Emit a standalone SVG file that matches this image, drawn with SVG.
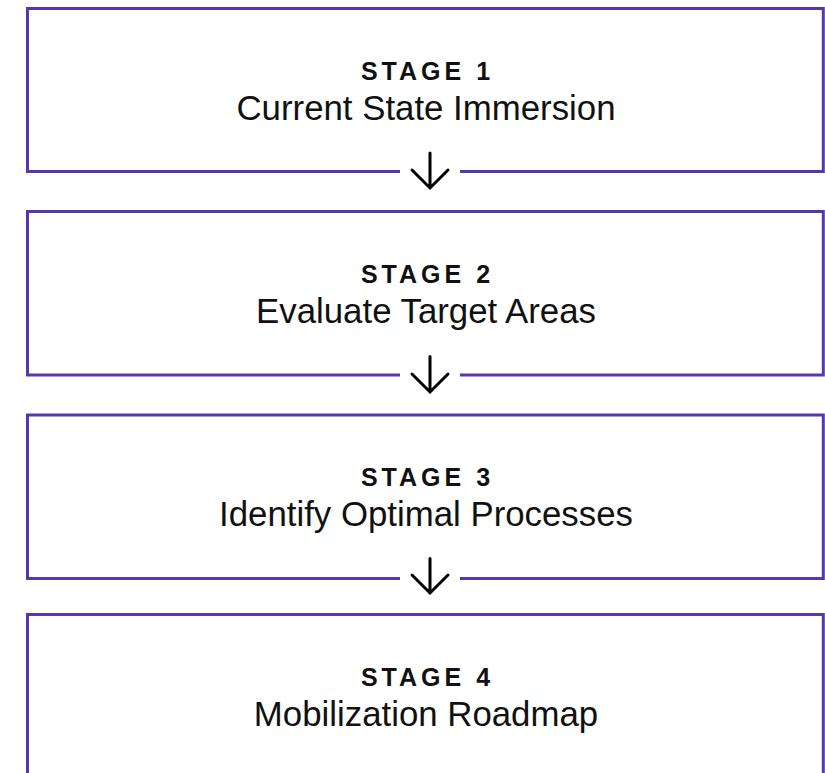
<svg xmlns="http://www.w3.org/2000/svg" width="825" height="773" viewBox="0 0 825 773">
<style>
.box{fill:none;stroke:#5439AD;stroke-width:3;stroke-linejoin:miter}
.stage{font-family:"Liberation Sans",Arial,sans-serif;font-weight:bold;font-size:25px;letter-spacing:4px;fill:#111;text-anchor:middle}
.title{font-family:"Liberation Sans",Arial,sans-serif;font-size:34.8px;fill:#111;text-anchor:middle}
.arrow{fill:none;stroke:#000;stroke-width:3;stroke-linecap:round;stroke-linejoin:miter}
</style>
<rect width="825" height="773" fill="#fff"/>
<g id="stage1">
<path class="box" d="M400 171.5 H27.5 V8.5 H823.3 V171.5 H460"/>
<text class="stage" x="427.5" y="80">STAGE 1</text>
<text class="title" x="426" y="119.5">Current State Immersion</text>
</g>
<g id="stage2">
<path class="box" d="M400 375 H27.5 V211.5 H823.3 V375 H460"/>
<text class="stage" x="427.5" y="283">STAGE 2</text>
<text class="title" x="426" y="322.5">Evaluate Target Areas</text>
</g>
<g id="stage3">
<path class="box" d="M400 578.5 H27.5 V415 H823.3 V578.5 H460"/>
<text class="stage" x="427.5" y="486">STAGE 3</text>
<text class="title" x="426" y="526">Identify Optimal Processes</text>
</g>
<g id="stage4">
<path class="box" d="M27.5 800 V614.5 H823.3 V800"/>
<text class="stage" x="427.5" y="686">STAGE 4</text>
<text class="title" x="426" y="725.5">Mobilization Roadmap</text>
</g>
<g id="connectors">
<path class="arrow" d="M430 153 V187.5 M412 170 L430 188 L448 170"/>
<path class="arrow" d="M430 356.5 V391.5 M412 374 L430 392 L448 374"/>
<path class="arrow" d="M430 558.5 V593 M412 575 L430 593 L448 575"/>
</g>
</svg>
